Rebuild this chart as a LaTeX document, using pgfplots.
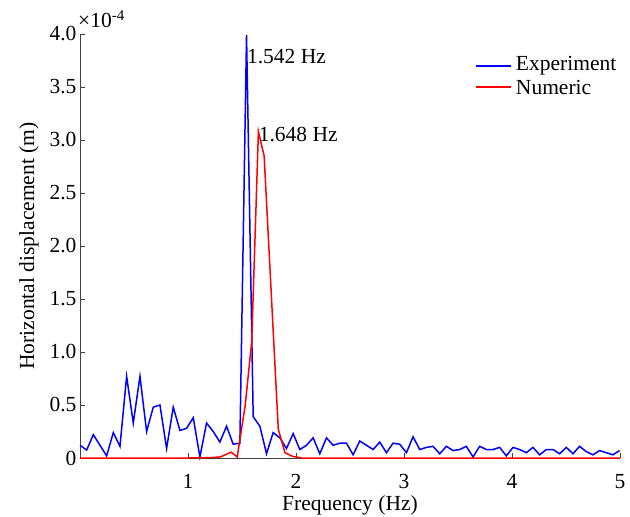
\documentclass[border=0pt]{standalone}
\usepackage{pgfplots}
\pgfplotsset{compat=1.18}
\usepackage{fontspec}
\setmainfont{Liberation Serif}
\newcommand{\fs}{\fontsize{21.5bp}{25bp}\selectfont}
\begin{document}
\begin{tikzpicture}
\begin{axis}[
 scale only axis, width=540bp, height=424bp,
 xmin=0, xmax=5, ymin=0, ymax=4,
 axis x line*=bottom, axis y line*=left,
 axis line style={black!75, line width=0.8bp},
 tick align=inside, major tick length=5bp,
 tick style={black!75, line width=0.8bp},
 xtick={1,2,3,4,5}, xticklabels={1,2,3,4,5},
 ytick={0,0.5,1,1.5,2,2.5,3,3.5,4}, yticklabels={0,0.5,1.0,1.5,2.0,2.5,3.0,3.5,4.0},
 ticklabel style={font=\fs},
 xticklabel style={yshift=-13bp},
 label style={font=\fs},
 xlabel={Frequency (Hz)}, ylabel={Horizontal displacement (m)},
 ylabel style={yshift=4bp},
 clip=false,
]
\addplot[blue, line width=1.5bp] coordinates {
(0.0000,0.12) (0.0617,0.075) (0.1234,0.22) (0.1850,0.12) (0.2467,0.02) (0.3084,0.24) (0.3701,0.11)
(0.4318,0.77) (0.4934,0.33) (0.5551,0.77) (0.6168,0.25) (0.6785,0.48) (0.7402,0.50) (0.8018,0.09)
(0.8635,0.48) (0.9252,0.26) (0.9869,0.28) (1.0486,0.38) (1.1102,0.01) (1.1719,0.33) (1.2336,0.25)
(1.2953,0.15) (1.3570,0.30) (1.4186,0.13) (1.4803,0.14) (1.5420,3.99) (1.6037,0.39) (1.6654,0.30)
(1.7270,0.04) (1.7887,0.24) (1.8504,0.19) (1.9121,0.09) (1.9738,0.23) (2.0354,0.08) (2.0971,0.12)
(2.1588,0.19) (2.2205,0.04) (2.2822,0.19) (2.3438,0.12) (2.4055,0.14) (2.4672,0.14) (2.5289,0.03)
(2.5906,0.16) (2.6522,0.12) (2.7139,0.08) (2.7756,0.15) (2.8373,0.05) (2.8990,0.14) (2.9606,0.13)
(3.0223,0.05) (3.0840,0.20) (3.1457,0.08) (3.2074,0.10) (3.2690,0.11) (3.3307,0.04) (3.3924,0.11)
(3.4541,0.07) (3.5158,0.08) (3.5774,0.11) (3.6391,0.01) (3.7008,0.11) (3.7625,0.08) (3.8242,0.08)
(3.8858,0.10) (3.9475,0.02) (4.0092,0.10) (4.0709,0.08) (4.1326,0.05) (4.1942,0.10) (4.2559,0.03)
(4.3176,0.08) (4.3793,0.08) (4.4410,0.04) (4.5026,0.10) (4.5643,0.04) (4.6260,0.11) (4.6877,0.06)
(4.7494,0.03) (4.8110,0.07) (4.8727,0.05) (4.9344,0.03) (4.9961,0.07)
};
\addplot[red, line width=1.5bp] coordinates {
(0,0) (1.0,0) (1.20,0.003) (1.30,0.01) (1.40,0.055) (1.456,0.01) (1.53,0.5) (1.59,1.1)
(1.652,3.08) (1.705,2.85) (1.836,0.27) (1.898,0.05) (1.97,0.015) (2.05,0.0) (5,0)
};
% legend samples
\addplot[blue, line width=1.5bp, forget plot] coordinates {(3.664,3.70) (3.989,3.70)};
\addplot[red, line width=1.5bp, forget plot] coordinates {(3.664,3.50) (3.989,3.50)};
\node[anchor=west, inner sep=0pt, font=\fs] at (axis cs:4.035,3.70) {Experiment};
\node[anchor=west, inner sep=0pt, font=\fs] at (axis cs:4.035,3.50) {Numeric};
\node[anchor=west, inner sep=0pt, font=\fs] at (axis cs:1.545,3.79) {1.542 Hz};
\node[anchor=west, inner sep=0pt, font=\fs] at (axis cs:1.654,3.05) {1.648 Hz};
\node[anchor=base west, inner sep=0pt, font=\fs, xshift=-2bp, yshift=6bp] at (rel axis cs:0,1) {×10\textsuperscript{-4}};
\end{axis}
\pgfresetboundingbox
\path[use as bounding box] (-80bp,-59bp) rectangle (550bp,458bp);
\end{tikzpicture}
\end{document}
